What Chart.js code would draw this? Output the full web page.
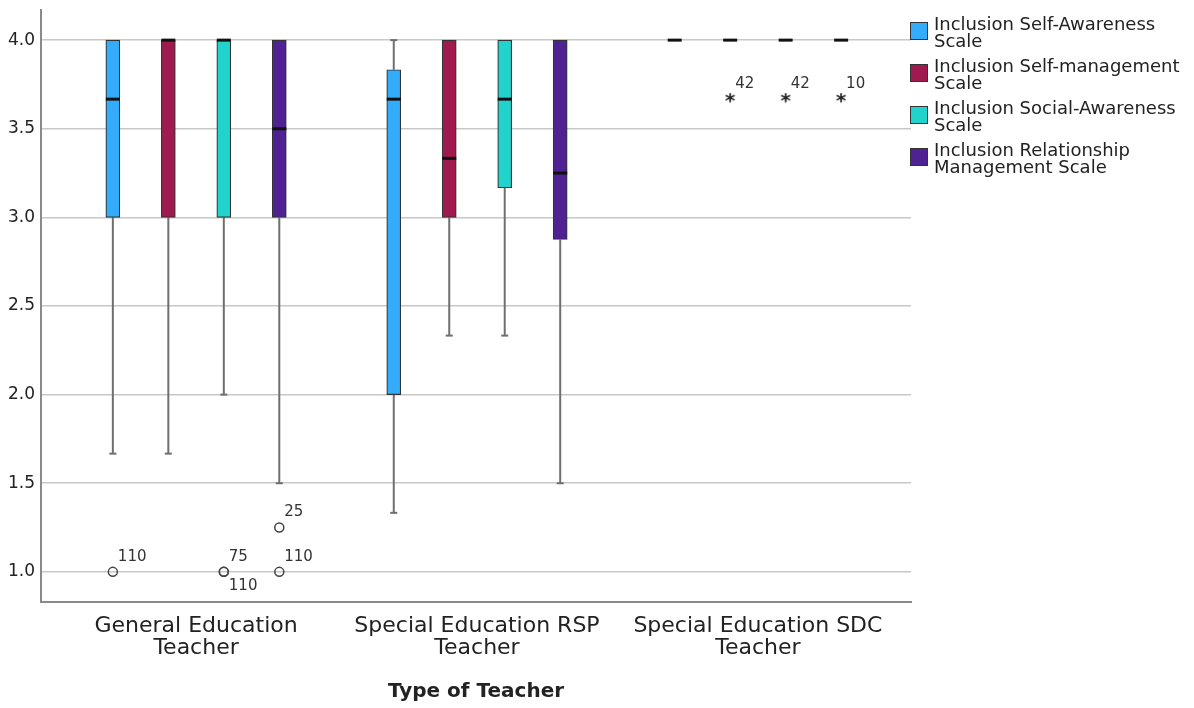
<!DOCTYPE html>
<html>
<head>
<meta charset="utf-8">
<script src="https://cdn.jsdelivr.net/npm/chart.js@4/dist/chart.umd.min.js"></script>
<style>
  html, body { margin: 0; padding: 0; background: #fff; }
  #wrap { position: relative; width: 1194px; height: 708px; }
  #legend { position: absolute; left: 910px; top: 15px; font-family: "DejaVu Sans", sans-serif; font-size: 18px; color: #222; }
  .item { display: flex; align-items: center; margin-bottom: 8px; }
  .sw { width: 18px; height: 18px; border: 1.5px solid #333; margin-right: 6px; flex: none; box-sizing: border-box; margin-top: -3px; }
  .txt { line-height: 17px; }
</style>
</head>
<body>
<div id="wrap">
  <canvas id="myChart" width="1194" height="708"></canvas>
  <div id="legend"></div>
</div>
<script>
// 카테고리 / 계열
const categories = [['General Education', 'Teacher'], ['Special Education RSP', 'Teacher'], ['Special Education SDC', 'Teacher']];
const seriesNames = [
  ['Inclusion Self-Awareness', 'Scale'],
  ['Inclusion Self-management', 'Scale'],
  ['Inclusion Social-Awareness', 'Scale'],
  ['Inclusion Relationship', 'Management Scale']
];
const seriesColors = ['#33acfb', '#a11a4f', '#21d3cd', '#4f2193'];

// 박스플롯 값 (계열별, 카테고리 순서)
const whiskerLow = [[1.667, 1.333, 4], [1.667, 2.333, 4], [2.0, 2.333, 4], [1.5, 1.5, 4]];
const q1 = [[3, 2, 4], [3, 3, 4], [3, 3.167, 4], [3, 2.875, 4]];
const median = [[3.667, 3.667, 4], [4, 3.333, 4], [4, 3.667, 4], [3.5, 3.25, 4]];
const q3 = [[4, 3.833, 4], [4, 4, 4], [4, 4, 4], [4, 4, 4]];
const whiskerHigh = [[4, 4, 4], [4, 4, 4], [4, 4, 4], [4, 4, 4]];

// 이상치 (o) 와 극단값 (*)
const outlierCat = [0, 0, 0, 0, 0];
const outlierSeries = [0, 2, 2, 3, 3];
const outlierValue = [1, 1, 1, 1.25, 1];
const outlierLabel = ['110', '75', '110', '25', '110'];
const outlierBelow = [false, false, true, false, false];

const extremeCat = [2, 2, 2];
const extremeSeries = [1, 2, 3];
const extremeValue = [3.667, 3.667, 3.667];
const extremeLabel = ['42', '42', '10'];

const yTicks = [1, 1.5, 2, 2.5, 3, 3.5, 4];

const groupStep = 0.1975;
function xPos(cat, s) {
  return cat + (s - 1.5) * groupStep;
}

const FONT = '"DejaVu Sans", sans-serif';

// 별표 모양 점
const starImg = document.createElement('canvas');
starImg.width = 14;
starImg.height = 14;
(function () {
  const c = starImg.getContext('2d');
  c.fillStyle = '#222';
  c.font = 'bold 20px ' + FONT;
  c.textAlign = 'center';
  c.textBaseline = 'middle';
  c.fillText('*', 7, 10);
})();

const datasets = seriesNames.map((name, s) => ({
  type: 'bar',
  label: name.join(' '),
  data: categories.map((c, i) => ({ x: xPos(i, s), y: [q1[s][i], q3[s][i]] })),
  backgroundColor: seriesColors[s],
  borderColor: '#333',
  borderWidth: 1.2,
  borderSkipped: false,
  barThickness: 14,
  grouped: false,
  order: 2
}));

datasets.push({
  type: 'scatter',
  label: 'outliers',
  data: outlierValue.map((v, k) => ({ x: xPos(outlierCat[k], outlierSeries[k]), y: v })),
  pointStyle: 'circle',
  pointRadius: 4.5,
  pointBorderWidth: 1.5,
  pointBorderColor: '#444',
  pointBackgroundColor: 'rgba(255,255,255,0)',
  labels: outlierLabel,
  below: outlierBelow,
  order: 1
});

datasets.push({
  type: 'scatter',
  label: 'extremes',
  data: extremeValue.map((v, k) => ({ x: xPos(extremeCat[k], extremeSeries[k]), y: v })),
  pointStyle: starImg,
  pointRadius: 5,
  labels: extremeLabel,
  below: [false, false, false],
  order: 1
});

// 수염, 중앙값, 이상치 라벨 그리기
const boxPlugin = {
  id: 'boxParts',
  beforeDatasetsDraw(chart) {
    const { ctx, scales: { x, y } } = chart;
    ctx.save();
    ctx.strokeStyle = '#6f6f6f';
    ctx.lineWidth = 2;
    seriesNames.forEach((n, s) => {
      categories.forEach((c, i) => {
        const px = x.getPixelForValue(xPos(i, s));
        const segs = [[whiskerLow[s][i], q1[s][i]], [q3[s][i], whiskerHigh[s][i]]];
        segs.forEach(([a, b]) => {
          if (a === b) return;
          ctx.beginPath();
          ctx.moveTo(px, y.getPixelForValue(a));
          ctx.lineTo(px, y.getPixelForValue(b));
          ctx.stroke();
        });
        [whiskerLow[s][i], whiskerHigh[s][i]].forEach((v, k) => {
          const inner = k === 0 ? q1[s][i] : q3[s][i];
          if (v === inner) return;
          const py = y.getPixelForValue(v);
          ctx.beginPath();
          ctx.moveTo(px - 3.5, py);
          ctx.lineTo(px + 3.5, py);
          ctx.stroke();
        });
      });
    });
    ctx.restore();
  },
  afterDatasetsDraw(chart) {
    const { ctx, scales: { x, y } } = chart;
    ctx.save();
    ctx.strokeStyle = '#111';
    ctx.lineWidth = 3;
    seriesNames.forEach((n, s) => {
      categories.forEach((c, i) => {
        const px = x.getPixelForValue(xPos(i, s));
        const py = y.getPixelForValue(median[s][i]);
        ctx.beginPath();
        ctx.moveTo(px - 7, py);
        ctx.lineTo(px + 7, py);
        ctx.stroke();
      });
    });
    ctx.font = '15px ' + FONT;
    ctx.fillStyle = '#333';
    ctx.textBaseline = 'middle';
    ctx.textAlign = 'left';
    chart.data.datasets.forEach((ds, di) => {
      if (!ds.labels) return;
      const meta = chart.getDatasetMeta(di);
      meta.data.forEach((pt, k) => {
        const dy = ds.below[k] ? 14 : -15;
        ctx.fillText(ds.labels[k], pt.x + 5, pt.y + dy);
      });
    });
    ctx.restore();
  }
};

const ctx = document.getElementById('myChart').getContext('2d');
new Chart(ctx, {
  data: { datasets: datasets },
  plugins: [boxPlugin],
  options: {
    responsive: false,
    animation: false,
    layout: { padding: { top: 10, right: 283, bottom: 0, left: 0 } },
    plugins: {
      legend: { display: false },
      tooltip: { enabled: false }
    },
    scales: {
      x: {
        type: 'linear',
        offset: false,
        min: -0.552,
        max: 2.545,
        afterBuildTicks: (scale) => { scale.ticks = [0, 1, 2].map(v => ({ value: v })); },
        afterFit: (scale) => { scale.height = 106; },
        grid: { display: false, drawTicks: false },
        border: { display: true, color: '#8a8a8a', width: 2 },
        ticks: {
          padding: 13,
          color: '#222',
          font: { family: FONT, size: 22, lineHeight: 1.0 },
          callback: (v) => categories[v]
        },
        title: {
          display: true,
          text: 'Type of Teacher',
          color: '#222',
          font: { family: FONT, size: 20, weight: 'bold' },
          padding: { top: 0, bottom: 4 }
        }
      },
      y: {
        type: 'linear',
        min: 0.83,
        max: 4.17,
        afterBuildTicks: (scale) => { scale.ticks = yTicks.map(v => ({ value: v })); },
        afterFit: (scale) => { scale.width = 41; scale.paddingTop = 0; scale.paddingBottom = 0; },
        grid: { color: '#c8c8c8', lineWidth: 1.5, drawTicks: false },
        border: { display: true, color: '#8a8a8a', width: 2 },
        ticks: {
          padding: 6,
          color: '#222',
          font: { family: FONT, size: 17 },
          callback: (v) => Number(v).toFixed(1)
        }
      }
    }
  }
});

// 범례
const legendEl = document.getElementById('legend');
seriesNames.forEach((name, s) => {
  const item = document.createElement('div');
  item.className = 'item';
  item.innerHTML = '<div class="sw" style="background:' + seriesColors[s] + '"></div><div class="txt">' + name.join('<br>') + '</div>';
  legendEl.appendChild(item);
});
</script>
</body>
</html>
